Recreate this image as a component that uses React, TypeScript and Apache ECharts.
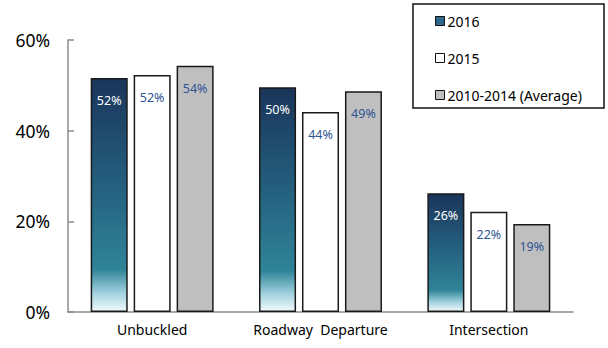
import React, { useEffect, useRef } from "react";
import * as echarts from "echarts";

const categories = ["Unbuckled", "Roadway  Departure", "Intersection"];
const seriesNames = ["2016", "2015", "2010-2014 (Average)"];
const values2016 = [51.6, 49.6, 26.2];
const values2015 = [52.3, 44.1, 22.1];
const valuesAvg = [54.3, 48.7, 19.4];
const yTicks = [0, 20, 40, 60];

const FONT = "Noto Sans";

export default function App() {
  const ref = useRef<HTMLDivElement>(null);
  useEffect(() => {
    document.body.style.margin = "0";
    const chart = echarts.init(ref.current!, null, { renderer: "svg" });
    const gradient = new echarts.graphic.LinearGradient(0, 0, 0, 1, [
      { offset: 0, color: "#1a355a" },
      { offset: 0.45, color: "#245f7e" },
      { offset: 0.82, color: "#2f8498" },
      { offset: 0.92, color: "#9fd0de" },
      { offset: 1, color: "#f2fafc" },
    ]);
    const labelBase = {
      show: true,
      position: "insideTop",
      distance: 16,
      fontFamily: FONT,
      fontSize: 12.5,
      formatter: (p: any) => Math.round(p.value) + "%",
    };
    const border = { borderColor: "#1a1a1a", borderWidth: 1.5 };
    chart.setOption({
      animation: false,
      grid: { left: 68, right: 35, top: 40, bottom: 36 },
      graphic: [
        {
          type: "rect",
          shape: { x: 413, y: 4, width: 191, height: 104 },
          style: { fill: "#fff", stroke: "#111", lineWidth: 1.5 },
          z: 0,
        },
      ],
      legend: {
        orient: "vertical",
        left: 435,
        top: 14,
        padding: 0,
        itemGap: 23,
        itemWidth: 9,
        itemHeight: 9,
        icon: "rect",
        textStyle: { fontFamily: FONT, fontSize: 14, color: "#000", padding: [0, 0, 0, -2] },
        data: [
          { name: seriesNames[0], itemStyle: { color: "#2a6a88", borderColor: "#111", borderWidth: 1 } },
          { name: seriesNames[1], itemStyle: { color: "#fff", borderColor: "#111", borderWidth: 1 } },
          { name: seriesNames[2], itemStyle: { color: "#bfbfbf", borderColor: "#111", borderWidth: 1 } },
        ],
        z: 5,
      },
      xAxis: {
        type: "category",
        data: categories,
        axisLine: { lineStyle: { color: "#8c8c8c", width: 1.5 } },
        axisTick: { show: false },
        axisLabel: { fontFamily: FONT, fontSize: 14, color: "#000", margin: 10, interval: 0 },
      },
      yAxis: {
        type: "value",
        min: 0,
        max: 60,
        interval: 20,
        axisLine: { show: true, lineStyle: { color: "#8c8c8c", width: 1.5 } },
        axisTick: { show: true, inside: true, length: 6, lineStyle: { color: "#8c8c8c", width: 1.5 } },
        splitLine: { show: false },
        axisLabel: {
          fontFamily: FONT,
          fontSize: 17.5,
          color: "#000",
          margin: 18,
          formatter: (v: number) => (yTicks.includes(v) ? v + "%" : ""),
        },
      },
      series: [
        {
          name: seriesNames[0],
          type: "bar",
          data: values2016,
          barWidth: "22%",
          barGap: "16%",
          itemStyle: { color: gradient, ...border },
          label: { ...labelBase, color: "#ffffff" },
        },
        {
          name: seriesNames[1],
          type: "bar",
          data: values2015,
          barWidth: "22%",
          barGap: "16%",
          itemStyle: { color: "#ffffff", ...border },
          label: { ...labelBase, color: "#2e5593" },
        },
        {
          name: seriesNames[2],
          type: "bar",
          data: valuesAvg,
          barWidth: "22%",
          barGap: "16%",
          itemStyle: { color: "#bfbfbf", ...border },
          label: { ...labelBase, color: "#2e5593" },
        },
      ],
    });
    return () => chart.dispose();
  }, []);
  return <div ref={ref} style={{ width: 608, height: 348 }} />;
}
